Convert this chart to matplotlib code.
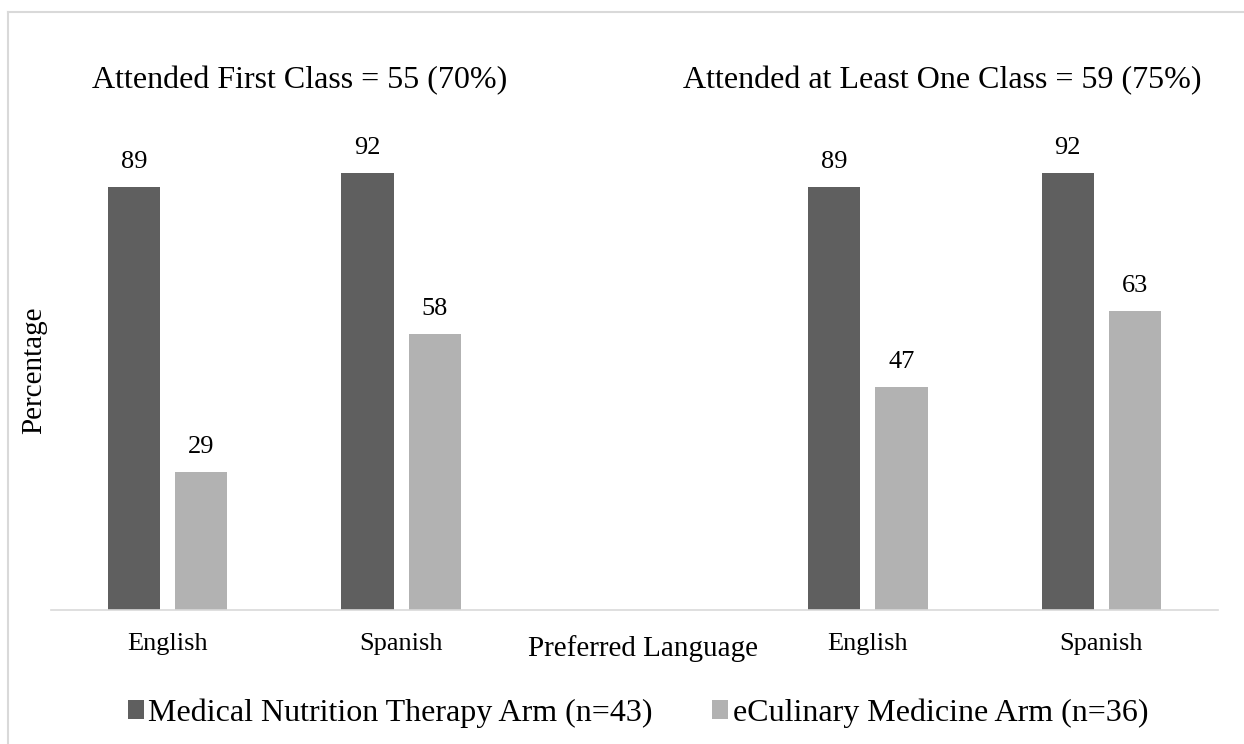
"""Attendance by preferred language for the two study arms."""

import matplotlib

matplotlib.use("Agg")
import matplotlib.pyplot as plt
from matplotlib.lines import Line2D

plt.rcParams["font.family"] = ["Liberation Serif", "DejaVu Serif"]

# Two panels side by side on one category axis; slot 2 is left empty.
languages = ["English", "Spanish", "English", "Spanish"]
slots = [0, 1, 3, 4]
mnt_pct = [89, 92, 89, 92]
ecm_pct = [29, 58, 47, 63]
arm_labels = ["Medical Nutrition Therapy Arm (n=43)", "eCulinary Medicine Arm (n=36)"]
panel_titles = ["Attended First Class = 55 (70%)", "Attended at Least One Class = 59 (75%)"]

DARK = "#5f5f5f"
LIGHT = "#b2b2b2"
RULE = "#d9d9d9"

W, H = 1244, 744
fig = plt.figure(figsize=(W / 100, H / 100), dpi=100)

# plot area in pixels: x 51..1218, y 130..610
ax = fig.add_axes([51 / W, 1 - 610 / H, 1167 / W, 480 / H])

bar_w = 0.223
offset = 0.144
mnt_x = [s - offset for s in slots]
ecm_x = [s + offset for s in slots]
mnt_bars = ax.bar(mnt_x, mnt_pct, width=bar_w, color=DARK, label=arm_labels[0])
ecm_bars = ax.bar(ecm_x, ecm_pct, width=bar_w, color=LIGHT, label=arm_labels[1])

for bars in (mnt_bars, ecm_bars):
    for rect in bars:
        ax.annotate(
            f"{rect.get_height():.0f}",
            (rect.get_x() + rect.get_width() / 2, rect.get_height()),
            xytext=(0, 18),
            textcoords="offset points",
            ha="center",
            va="center",
            fontsize=19,
        )

ax.set_xlim(-0.5, 4.5)
ax.set_ylim(0, 101)
ax.set_xticks(slots)
ax.set_xticklabels(languages, fontsize=19)
ax.tick_params(axis="x", length=0, pad=16.5)
ax.set_yticks([])
for side in ("top", "right", "left"):
    ax.spines[side].set_visible(False)
ax.spines["bottom"].set_color(RULE)
ax.spines["bottom"].set_linewidth(1.2)

ax.set_ylabel("Percentage", fontsize=21)
ax.yaxis.label.set_va("center")
ax.yaxis.set_label_coords(-17 / 1167, 0.5)

ax.set_xlabel("Preferred Language", fontsize=21)
ax.xaxis.label.set_va("baseline")
ax.xaxis.set_label_coords(592 / 1167, -46 / 480)

fig.text(92 / W, 1 - 88 / H, panel_titles[0], fontsize=23, ha="left", va="baseline")
fig.text(683 / W, 1 - 88 / H, panel_titles[1], fontsize=23, ha="left", va="baseline")

fig.legend(
    handles=[mnt_bars, ecm_bars],
    labels=arm_labels,
    loc="center",
    bbox_to_anchor=(638 / W, 1 - 713 / H),
    ncol=2,
    frameon=False,
    fontsize=23,
    handlelength=0.5,
    handleheight=0.5,
    handletextpad=0.15,
    columnspacing=1.85,
    borderpad=0,
)

# light frame around the chart area
fig.add_artist(Line2D([8 / W, 1.0], [1 - 12 / H] * 2, color=RULE, lw=1.5))
fig.add_artist(Line2D([8 / W] * 2, [0.0, 1 - 12 / H], color=RULE, lw=1.5))

fig.savefig("out.png", dpi=100)
plt.close(fig)
